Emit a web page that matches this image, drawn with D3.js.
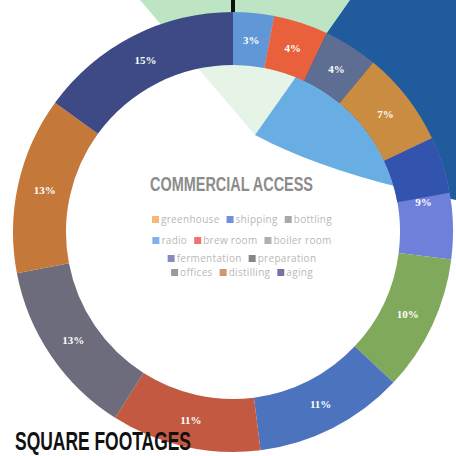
<!DOCTYPE html>
<html lang="en">
<head>
<meta charset="UTF-8">
<title>Square Footages</title>
<style>
html, body { margin: 0; padding: 0; background: #fff; }
#graph { width: 456px; height: 456px; }
.sliceLabel { font-family: "Liberation Serif", serif; font-weight: bold; font-size: 11px; fill: #fff; }
.legendText { font-family: "Open Sans", sans-serif; font-size: 10px; letter-spacing: 0.3px; fill: #b8b8b8; }
</style>
</head>
<body>
<div id="graph"></div>
<script src="https://d3js.org/d3.v7.min.js"></script>
<script>

// slice values, clockwise from 12 o'clock
const values = [3, 4, 4, 7, 9, 10, 11, 11, 13, 13, 15];
const sliceColors = ["#6197d6", "#e8603c", "#5d6e92", "#c98c40", "#6e80da", "#80a95c",
                     "#4c73bd", "#c25940", "#6c6c7c", "#c4793a", "#3d4a85"];

// legend rows as printed
const legendRows = [
    ["greenhouse", "shipping", "bottling"],
    ["radio", "brew room", "boiler room"],
    ["fermentation", "preparation"],
    ["offices", "distilling", "aging"]
];
const legendColors = {
    "greenhouse": "#f4b878", "shipping": "#6f8fe0", "bottling": "#a8a8a8",
    "radio": "#7fb0ee", "brew room": "#f07272", "boiler room": "#b0b0b0",
    "fermentation": "#8a8cb8", "preparation": "#8a8686",
    "offices": "#9a9a9a", "distilling": "#d39470", "aging": "#7474a4"
};

const title = "COMMERCIAL ACCESS";
const caption = "SQUARE FOOTAGES";

!(function(){
    const width = 456, height = 456;
    const cx = 233, cy = 232;
    const outerR = 220, innerR = 167;

    const svg = d3.select("#graph").append("svg")
        .attr("width", width).attr("height", height);

    // background poster shapes (behind the ring)
    const bg = svg.append("g");
    const apex = [255, 135];
    bg.append("path")
        .attr("d", `M${apex} L140,0 L350,0 Z`)
        .attr("fill", "#bde5c3");
    const blueShape = `M${apex} L350,0 L456,0 L456,200 Q330,175 ${apex} Z`;
    bg.append("path").attr("d", blueShape).attr("fill", "#1f5b9d");

    // donut hole, with the poster showing through paler
    svg.append("defs").append("clipPath").attr("id", "hole")
        .append("circle").attr("cx", cx).attr("cy", cy).attr("r", innerR);
    svg.append("circle").attr("cx", cx).attr("cy", cy).attr("r", innerR).attr("fill", "#fff");
    const inner = svg.append("g").attr("clip-path", "url(#hole)");
    inner.append("path").attr("d", `M${apex} L140,0 L350,0 Z`).attr("fill", "#e6f4e8");
    inner.append("path").attr("d", blueShape).attr("fill", "#69aee2");

    // ring
    const pie = d3.pie().sort(null).value(d => d);
    const arcs = pie(values);
    const arc = d3.arc().innerRadius(innerR).outerRadius(outerR);
    const labelArc = d3.arc().innerRadius(193).outerRadius(193);

    const ring = svg.append("g").attr("transform", `translate(${cx},${cy})`);
    ring.selectAll("path.slice")
        .data(arcs)
        .enter().append("path")
        .attr("class", "slice")
        .attr("d", arc)
        .attr("fill", (d, i) => sliceColors[i]);

    // darker overlap on the upper part of the 9% slice
    const s = arcs[4];
    ring.append("path")
        .attr("d", arc({startAngle: s.startAngle, endAngle: s.startAngle + (s.endAngle - s.startAngle) * 0.46}))
        .attr("fill", "#3254ae");

    ring.selectAll("text.sliceLabel")
        .data(arcs)
        .enter().append("text")
        .attr("class", "sliceLabel")
        .attr("transform", d => `translate(${labelArc.centroid(d)})`)
        .attr("text-anchor", "middle")
        .attr("dy", "0.35em")
        .text(d => d.data + "%");

    // tick at the top
    svg.append("rect").attr("x", cx - 2).attr("y", 0).attr("width", 4).attr("height", 12).attr("fill", "#111");

    // title and legend
    svg.append("text")
        .attr("x", 150).attr("y", 191)
        .attr("textLength", 163).attr("lengthAdjust", "spacingAndGlyphs")
        .style("font-family", "'Liberation Sans Narrow', sans-serif")
        .style("font-weight", "bold").style("font-size", "20px")
        .style("fill", "#8c8c8c")
        .text(title);

    const rowY = [223, 244, 262, 276];
    const legend = svg.append("g");
    legendRows.forEach((row, r) => {
        const g = legend.append("g");
        let x = 0;
        row.forEach(name => {
            g.append("rect").attr("x", x).attr("y", -7).attr("width", 7).attr("height", 7)
                .attr("fill", legendColors[name]);
            const t = g.append("text").attr("class", "legendText")
                .attr("x", x + 9).attr("y", 0).text(name);
            x += 9 + t.node().getComputedTextLength() + 7;
        });
        g.attr("transform", `translate(${cx + 9 - (x - 7) / 2},${rowY[r]})`);
    });

    // caption
    svg.append("text")
        .attr("x", 15).attr("y", 450)
        .attr("textLength", 176).attr("lengthAdjust", "spacingAndGlyphs")
        .style("font-family", "'Liberation Sans Narrow', sans-serif")
        .style("font-weight", "bold").style("font-size", "26px")
        .style("fill", "#111")
        .text(caption);
}());

</script>
</body>
</html>
